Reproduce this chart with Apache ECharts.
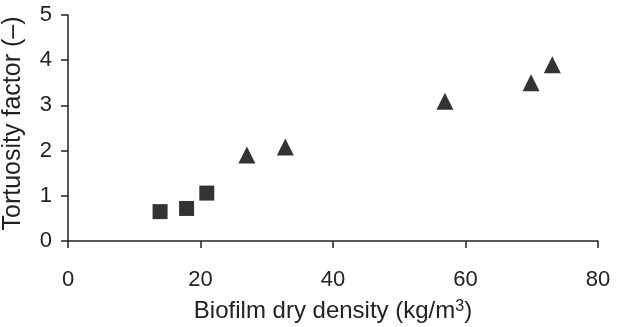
<!DOCTYPE html>
<html><head><meta charset="utf-8">
<script src="https://cdn.jsdelivr.net/npm/echarts@6/dist/echarts.min.js"></script>
<style>html,body{margin:0;padding:0;background:#fff}#c{width:628px;height:327px}</style>
</head><body><div id="c"></div>
<script>
const squareX = [13.9, 17.9, 20.95];
const squareY = [0.65, 0.72, 1.06];
const triangleX = [27.0, 32.8, 56.9, 69.9, 73.1];
const triangleY = [1.9, 2.08, 3.09, 3.5, 3.9];
const xTicks = [0, 20, 40, 60, 80];
const yTicks = [0, 1, 2, 3, 4, 5];
const xName = 'Biofilm dry density (kg/m';
const yName = 'Tortuosity factor (–)';

const zip = (a, b) => a.map((v, i) => [v, b[i]]);
const font = 'Liberation Sans, Arial, Helvetica, sans-serif';
const chart = echarts.init(document.getElementById('c'), null, {renderer: 'canvas'});
chart.setOption({
  animation: false,
  backgroundColor: '#fff',
  grid: {left: 68, right: 30, top: 15, bottom: 86, containLabel: false, outerBoundsMode: 'none'},
  xAxis: {
    type: 'value', min: xTicks[0], max: xTicks[xTicks.length - 1], interval: 20,
    splitLine: {show: false},
    axisLine: {show: true, lineStyle: {color: '#222', width: 1.5}},
    axisTick: {show: true, inside: false, length: 7, lineStyle: {color: '#222', width: 1.5}},
    axisLabel: {color: '#222', fontSize: 22, fontFamily: font, margin: 28},
    name: '{a|' + xName + '}{s|3}{a|)}',
    nameLocation: 'middle', nameGap: 58,
    nameTextStyle: {
      rich: {
        a: {color: '#222', fontSize: 24, fontFamily: font},
        s: {color: '#222', fontSize: 16, fontFamily: font, verticalAlign: 'top', padding: [0, 0, 9, 0]}
      }
    }
  },
  yAxis: {
    type: 'value', min: yTicks[0], max: yTicks[yTicks.length - 1], interval: 1,
    splitLine: {show: false},
    axisLine: {show: true, lineStyle: {color: '#222', width: 1.5}},
    axisTick: {show: true, inside: false, length: 7, lineStyle: {color: '#222', width: 1.5}},
    axisLabel: {color: '#222', fontSize: 22, fontFamily: font, margin: 16},
    name: yName, nameLocation: 'middle', nameGap: 42, nameRotate: 90,
    nameTextStyle: {color: '#222', fontSize: 25, fontFamily: font, padding: [0, 0, 0, 9]}
  },
  series: [
    {type: 'scatter', data: zip(squareX, squareY), symbol: 'rect', symbolSize: 15,
     itemStyle: {color: '#000'}},
    {type: 'scatter', data: zip(triangleX, triangleY), symbol: 'triangle', symbolSize: [17, 17],
     itemStyle: {color: '#000'}}
  ]
});
</script></body></html>
